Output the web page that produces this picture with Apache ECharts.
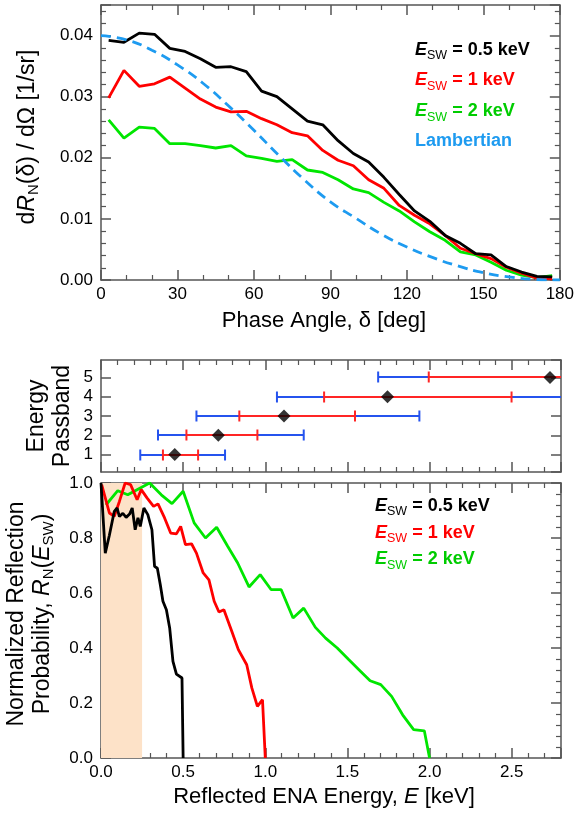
<!DOCTYPE html>
<html><head><meta charset="utf-8">
<script src="https://cdn.jsdelivr.net/npm/echarts@6/dist/echarts.min.js"></script>
<style>html,body{margin:0;padding:0;background:#fff}#wrap{position:relative;width:577px;height:814px}#c,#t{position:absolute;left:0;top:0;width:577px;height:814px}#t{pointer-events:none;display:none}</style>
</head><body><div id="wrap"><div id="c"></div><div id="t"></div></div>
<script>
// ---------- Top panel: angular distribution ----------
const phaseAngles = [3,9,15,21,27,33,39,45,51,57,63,69,75,81,87,93,99,105,111,117,123,129,135,141,147,153,159,165,171,177];
const dR05 = [0.0392,0.0389,0.0404,0.0402,0.0379,0.0374,0.0362,0.0348,0.0349,0.0341,0.0309,0.0300,0.0280,0.0260,0.0254,0.0228,0.0207,0.0193,0.0168,0.0140,0.0113,0.0096,0.0073,0.0060,0.0043,0.0041,0.0022,0.0013,0.0006,0.0005];
const dR1  = [0.0298,0.0343,0.0317,0.0321,0.0332,0.0314,0.0296,0.0283,0.0275,0.0276,0.0264,0.0254,0.0241,0.0236,0.0212,0.0196,0.0187,0.0164,0.0150,0.0122,0.0106,0.0092,0.0073,0.0052,0.0043,0.0035,0.0021,0.0011,0.0003,0.0002];
const dR2  = [0.0262,0.0232,0.0250,0.0248,0.0223,0.0223,0.0220,0.0216,0.0220,0.0203,0.0199,0.0194,0.0197,0.0180,0.0176,0.0164,0.0149,0.0143,0.0127,0.0113,0.0095,0.0079,0.0065,0.0046,0.0041,0.0029,0.0016,0.0008,0.0004,0.0007];
const lambAngles = [0,10,20,30,40,50,60,70,80,90,100,110,120,130,140,150,160,170,180];
const lambVals = [0.0400,0.0393,0.0376,0.0352,0.0322,0.0285,0.0245,0.0203,0.0163,0.0128,0.0101,0.0075,0.0054,0.0037,0.0023,0.0012,0.0005,0.0001,0.0000];

// ---------- Middle panel: energy passbands ----------
const passbands  = [1,2,3,4,5];
const bandCenter = [0.449,0.714,1.114,1.744,2.733];
const redLow     = [0.377,0.520,0.842,1.358,1.995];
const redHigh    = [0.591,0.952,1.546,2.499,3.600];
const blueLow    = [0.239,0.347,0.581,1.071,1.687];
const blueHigh   = [0.755,1.234,1.938,2.930,4.600];

// ---------- Bottom panel: energy spectra ----------
const e05 = [0,0.026,0.051,0.081,0.098,0.112,0.133,0.153,0.174,0.190,0.208,0.225,0.239,0.261,0.285,0.310,0.326,0.343,0.361,0.377,0.398,0.418,0.438,0.459,0.493,0.500];
const p05 = [1.0,0.745,0.81,0.897,0.909,0.878,0.89,0.875,0.887,0.909,0.83,0.873,0.842,0.909,0.885,0.83,0.697,0.69,0.63,0.57,0.539,0.473,0.351,0.305,0.291,0.0];
const e1 = [0.004,0.051,0.081,0.112,0.147,0.180,0.220,0.245,0.281,0.320,0.347,0.387,0.424,0.459,0.485,0.514,0.551,0.581,0.622,0.657,0.689,0.718,0.748,0.796,0.836,0.887,0.918,0.952,0.983,1.0];
const p1 = [0.994,0.891,0.879,0.933,1.0,0.994,0.939,0.976,0.945,0.915,0.924,0.873,0.818,0.815,0.842,0.776,0.779,0.745,0.673,0.648,0.57,0.531,0.539,0.461,0.394,0.339,0.255,0.188,0.212,0.0];
const e2 = [0.03,0.102,0.163,0.245,0.296,0.367,0.432,0.5,0.567,0.636,0.704,0.771,0.832,0.901,0.969,1.036,1.097,1.169,1.234,1.305,1.367,1.438,1.509,1.570,1.638,1.703,1.769,1.836,1.903,1.968,2.0];
const p2 = [0.92,0.972,0.957,0.984,1.0,0.957,0.925,0.97,0.855,0.8,0.839,0.770,0.709,0.622,0.667,0.612,0.612,0.509,0.545,0.475,0.436,0.4,0.357,0.321,0.281,0.267,0.224,0.157,0.103,0.099,0.0];
const shadeRange = [0, 0.25];
const legendValues = ['0.5','1','2'];

const FF = '"Liberation Sans", Arial, Helvetica, sans-serif';
const AX = '#555';
const zip = (a,b) => a.map((v,i)=>[v,b[i]]);
const colors = {k:'#000000', r:'#FF0000', g:'#00E600', gt:'#00CC00', lb:'#1E9BF0', mb:'#2553EE', mr:'#FF2525'};

function axis(extra, withTicks, withLine){
  return Object.assign({
    type:'value',
    axisLine:{show:withLine,onZero:false,lineStyle:{color:AX,width:1.5}},
    axisTick:{show:withTicks,inside:true,length:10,lineStyle:{color:AX,width:1.5}},
    minorTick:{show:false},
    splitLine:{show:false},
    minorSplitLine:{show:false},
    axisLabel:{show:false}
  }, extra);
}
const mt = (n, on) => ({show:on,splitNumber:n,length:5,lineStyle:{color:AX,width:1.2}});
const lbl = (fmt, margin, showMin, showMax) => ({show:true,fontFamily:FF,fontSize:17,color:'#000',margin:margin,formatter:fmt,showMinLabel:showMin,showMaxLabel:showMax});

function axesConfig(ticks, line, labels){
  const L = (f,m,a,b) => labels ? lbl(f,m,a,b) : {show:false};
  return {
    grid:[{left:101, top:5, width:460, height:275},{left:101, top:360, width:460, height:112},{left:101, top:483, width:460, height:275}],
    xAxis:[
      axis({gridIndex:0, position:'bottom', min:0, max:180, interval:30, minorTick:mt(3,ticks), axisLabel:L(x => String(x), 6, true, true)}, ticks, line),
      axis({gridIndex:0, position:'top', min:0, max:180, interval:30, minorTick:mt(3,ticks)}, ticks, line),
      axis({gridIndex:1, position:'bottom', min:0, max:2.8, interval:0.5, minorTick:mt(5,ticks)}, ticks, line),
      axis({gridIndex:1, position:'top', min:0, max:2.8, interval:0.5, minorTick:mt(5,ticks)}, ticks, line),
      axis({gridIndex:2, position:'bottom', min:0, max:2.8, interval:0.5, minorTick:mt(5,ticks), axisLabel:L(x => x.toFixed(1), 6, true, false)}, ticks, line),
      axis({gridIndex:2, position:'top', min:0, max:2.8, interval:0.5, minorTick:mt(5,ticks)}, ticks, line)
    ],
    yAxis:[
      axis({gridIndex:0, position:'left', min:0, max:0.045, interval:0.01, minorTick:mt(5,ticks), axisLabel:L(x => x.toFixed(2), 8, true, false)}, ticks, line),
      axis({gridIndex:0, position:'right', min:0, max:0.045, interval:0.01, minorTick:mt(5,ticks)}, ticks, line),
      axis({gridIndex:1, position:'left', min:0.1, max:5.9, splitNumber:6, axisLabel:L(x => String(Math.round(x*10)/10), 8, false, false)}, ticks, line),
      axis({gridIndex:1, position:'right', min:0.1, max:5.9, splitNumber:6}, ticks, line),
      axis({gridIndex:2, position:'left', min:0, max:1, interval:0.2, minorTick:mt(5,ticks), axisLabel:L(x => x.toFixed(1), 8, true, true)}, ticks, line),
      axis({gridIndex:2, position:'right', min:0, max:1, interval:0.2, minorTick:mt(5,ticks)}, ticks, line)
    ]
  };
}

function barRender(color){
  return function(params, api){
    const y = api.value(0), lo = api.value(1), hi = api.value(2);
    const cs = params.coordSys;
    const p0 = api.coord([lo, y]), p1c = api.coord([hi, y]);
    const py = Math.round(p0[1]);
    const xmin = cs.x, xmax = cs.x + cs.width;
    const x0 = Math.max(p0[0], xmin), x1 = Math.min(p1c[0], xmax);
    const ch = [{type:'line',shape:{x1:x0,y1:py,x2:x1,y2:py},style:{stroke:color,lineWidth:2}}];
    [p0[0], p1c[0]].forEach(px => {
      if (px >= xmin - 0.5 && px <= xmax + 0.5)
        ch.push({type:'line',shape:{x1:px,y1:py-5.5,x2:px,y2:py+5.5},style:{stroke:color,lineWidth:2}});
    });
    return {type:'group',children:ch};
  };
}
function legendRich(x, y, color, value){
  return {type:'text', x:x, y:y, silent:true, style:{
    text:'{e|E}{s|SW}{b| = ' + value + ' keV}',
    rich:{
      e:{fontFamily:FF,fontSize:18,fontWeight:'bold',fontStyle:'italic',fill:color,lineHeight:24},
      s:{fontFamily:FF,fontSize:12.5,fill:color,lineHeight:12,height:12,verticalAlign:'bottom'},
      b:{fontFamily:FF,fontSize:18,fontWeight:'bold',fill:color,lineHeight:24}
    },
    align:'left', verticalAlign:'middle'
  }};
}
function titleRich(x, y, text, rot, size){
  const rich = {
    i:{fontFamily:FF,fontSize:size,fontStyle:'italic',fill:'#000',lineHeight:26},
    n:{fontFamily:FF,fontSize:size,fill:'#000',lineHeight:26},
    s:{fontFamily:FF,fontSize:15,fill:'#000',lineHeight:15,height:15,verticalAlign:'bottom'}
  };
  return {type:'text', x:x, y:y, rotation:rot, silent:true, style:{
    text:text, rich:rich, fill:'#000', fontSize:size, fontFamily:FF, lineHeight:26, align:'center', verticalAlign:'middle'
  }};
}

const mainOption = Object.assign({
  animation:false,
  series:[
    {type:'line', xAxisIndex:0, yAxisIndex:0, data:zip(phaseAngles,dR2), symbol:'none', lineStyle:{color:colors.g,width:2.8}},
    {type:'line', xAxisIndex:0, yAxisIndex:0, data:zip(phaseAngles,dR1), symbol:'none', lineStyle:{color:colors.r,width:2.8}},
    {type:'line', xAxisIndex:0, yAxisIndex:0, data:zip(phaseAngles,dR05), symbol:'none', lineStyle:{color:colors.k,width:2.8}},
    {type:'line', xAxisIndex:0, yAxisIndex:0, data:zip(lambAngles,lambVals), symbol:'none', smooth:true, lineStyle:{color:colors.lb,width:2.8,type:[10,6]}},
    {type:'custom', xAxisIndex:2, yAxisIndex:2, data:passbands.map((b,i)=>[b,blueLow[i],blueHigh[i]]), encode:{x:[1,2],y:0}, renderItem:barRender(colors.mb)},
    {type:'custom', xAxisIndex:2, yAxisIndex:2, data:passbands.map((b,i)=>[b,redLow[i],redHigh[i]]), encode:{x:[1,2],y:0}, renderItem:barRender(colors.mr)},
    {type:'scatter', xAxisIndex:2, yAxisIndex:2, data:zip(bandCenter,passbands), symbol:'diamond', symbolSize:[13,13], itemStyle:{color:'#000'}},
    {type:'custom', xAxisIndex:4, yAxisIndex:4, data:[[shadeRange[0], shadeRange[1]]], encode:{x:[0,1]}, z:1,
     renderItem:function(params, api){
       const a = api.coord([api.value(0), 1]); const b = api.coord([api.value(1), 0]);
       return {type:'rect', shape:{x:a[0], y:a[1], width:b[0]-a[0], height:b[1]-a[1]}, style:{fill:'#FDE2C8'}};
     }},
    {type:'line', xAxisIndex:4, yAxisIndex:4, data:zip(e2,p2), symbol:'none', lineStyle:{color:colors.g,width:2.8}},
    {type:'line', xAxisIndex:4, yAxisIndex:4, data:zip(e1,p1), symbol:'none', lineStyle:{color:colors.r,width:2.8}},
    {type:'line', xAxisIndex:4, yAxisIndex:4, data:zip(e05,p05), symbol:'none', lineStyle:{color:colors.k,width:2.8}}
  ],
  graphic:[
    legendRich(415, 50, colors.k, legendValues[0]), legendRich(415, 80.5, colors.r, legendValues[1]), legendRich(415, 111.5, colors.gt, legendValues[2]),
    {type:'text', x:415, y:141.5, silent:true, style:{text:'Lambertian', fill:colors.lb, font:'bold 18px ' + FF, align:'left', verticalAlign:'middle'}},
    legendRich(375, 506, colors.k, legendValues[0]), legendRich(375, 533, colors.r, legendValues[1]), legendRich(375, 559.5, colors.gt, legendValues[2]),
    titleRich(324, 321, '{n|Phase Angle, δ [deg]}', 0, 22),
    titleRich(324, 796.5, '{n|Reflected ENA Energy, }{i|E}{n| [keV]}', 0, 22),
    titleRich(28, 137, '{n|d}{i|R}{s|N}{n|(δ) / dΩ [1/sr]}', Math.PI/2, 23),
    titleRich(50, 416, '{n|Energy}\n{n|Passband}', Math.PI/2, 23),
    titleRich(30, 614, '{n|Normalized Reflection}\n{n|Probability, }{i|R}{s|N}{n|(}{i|E}{s|SW}{n|)}', Math.PI/2, 23)
  ]
}, axesConfig(true, true, true));

function ticksVisible(sel){
  const cvs = document.querySelectorAll(sel + ' canvas');
  for (const cv of cvs){
    const d = cv.getContext('2d').getImageData(173, 270, 10, 9).data;
    for (let i = 0; i < d.length; i += 4){
      if (d[i+3] > 100 && (d[i]+d[i+1]+d[i+2])/3 < 170) return true;
    }
  }
  return false;
}

const chart = echarts.init(document.getElementById('c'), null, {renderer:'canvas'});
chart.setOption(mainOption);
try { chart.getZr().flush(); } catch(e) {}
if (!ticksVisible('#c')) {
  // tick marks drawn by a transparent overlay chart with the same grids and axes
  const tdiv = document.getElementById('t');
  tdiv.style.display = 'block';
  const tick = echarts.init(tdiv, null, {renderer:'canvas'});
  tick.setOption(Object.assign({animation:false, backgroundColor:'transparent', series:[]}, axesConfig(true, false, false)));
}
</script>
</body></html>
